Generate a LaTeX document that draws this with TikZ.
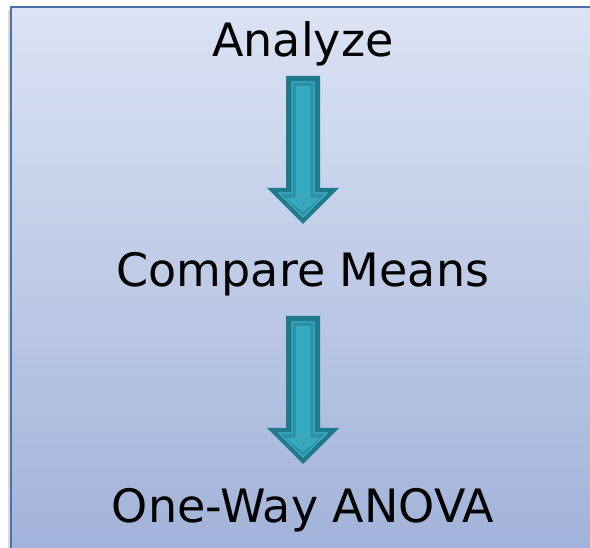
\documentclass[tikz,border=0pt]{standalone}
\usepackage{fontspec}
\setmainfont{DejaVu Sans}
\usepackage{xcolor}
\usepackage{tikz}
\usetikzlibrary{calc}
\definecolor{cPanelTop}{RGB}{219,227,244}
\definecolor{cPanelBot}{RGB}{160,177,216}
\definecolor{cPanelLine}{RGB}{74,112,174}
\definecolor{cArrDark}{RGB}{31,122,140}
\definecolor{cArrMid}{RGB}{43,144,164}
\definecolor{cArrLight}{RGB}{54,168,192}
\definecolor{cArrEdge}{RGB}{70,182,205}
\tikzset{
	panel/.style    ={draw=cPanelLine, line width=2pt, top color=cPanelTop, bottom color=cPanelBot},
	panelshade/.style={fill=black!14},
	lbl/.style      ={anchor=base, inner sep=0pt, text=black, font=\fontsize{46}{55}\selectfont},
	arrdark/.style  ={fill=cArrDark},
	arrmid/.style   ={fill=cArrMid, draw=cArrEdge, line width=1pt},
	arrlight/.style ={fill=cArrLight},
}
\begin{document}
\begin{tikzpicture}[x=1pt, y=-1pt]
	\useasboundingbox (0,0) rectangle (590,548);
	\clip (0,0) rectangle (590,548);
	% background panel
	\fill[panelshade] (8,10) rectangle (610,570);
	\draw[panel] (11,7) rectangle (610,570);
	% labels
	\node[lbl] (an) at (303,57) {Analyze};
	\node[lbl] (cm) at (303,287) {Compare Means};
	\node[lbl] (ow) at (303,522) {One-Way ANOVA};
	% block arrows
	\coordinate (an-s) at (303,76);  \coordinate (an-e) at (303,224);
	\coordinate (cm-s) at (303,316); \coordinate (cm-e) at (303,464);
	\foreach \a in {an,cm}
		\foreach \w/\h/\t/\b/\p/\c in {17/36/0/36/0/arrdark, 11/24/6/31/7/arrmid, 7.5/17/10/26/12/arrlight}
			\path[\c] ($(\a-s)+(-\w,\t)$) -- ($(\a-s)+(\w,\t)$) -- ($(\a-e)+(\w,-\b)$) -- ($(\a-e)+(\h,-\b)$)
				-- ($(\a-e)+(0,-\p)$) -- ($(\a-e)+(-\h,-\b)$) -- ($(\a-e)+(-\w,-\b)$) -- cycle;
\end{tikzpicture}
\end{document}
